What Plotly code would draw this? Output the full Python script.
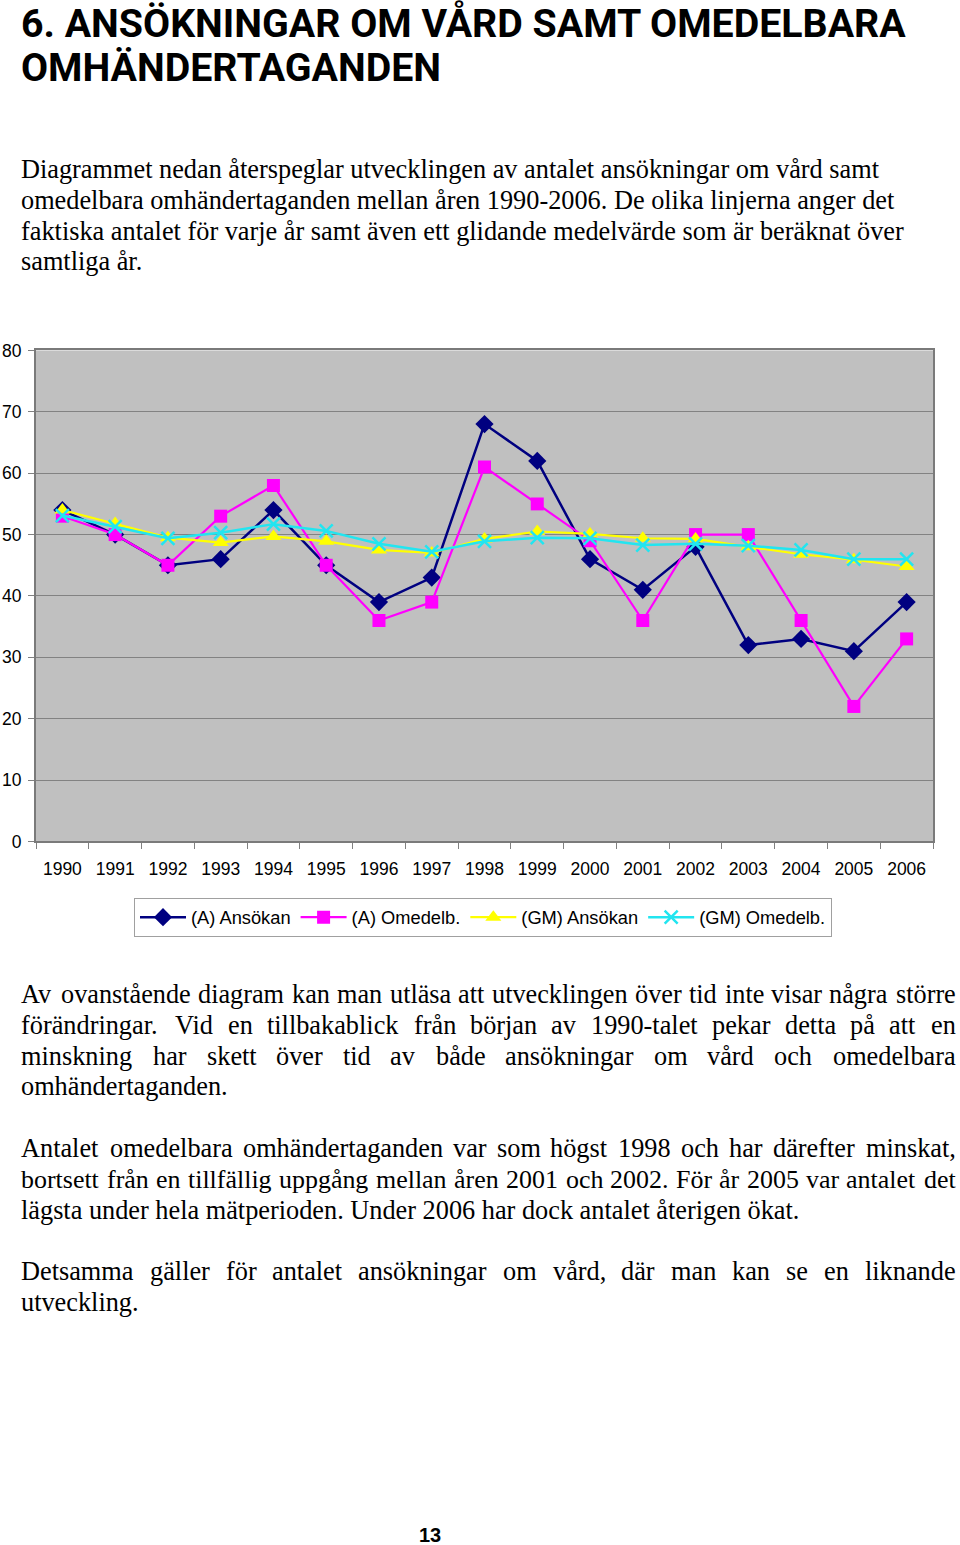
import plotly.graph_objects as go

W, H = 960, 1545

years = [str(y) for y in range(1990, 2007)]
a_ansokan = [54, 50, 45, 46, 54, 45, 39, 43, 68, 62, 46, 41, 48, 32, 33, 31, 39]
a_omedelb = [53, 50, 45, 53, 58, 45, 36, 39, 61, 55, 49, 36, 50, 50, 36, 22, 33]
gm_ansokan = [54, 51.8, 49.5, 48.7, 49.7, 48.9, 47.5, 47.0, 49.3, 50.5, 50.1, 49.4, 49.3, 48.0, 46.8, 45.9, 44.8]
gm_omedelb = [53.1, 51.3, 49.4, 50.3, 51.7, 50.6, 48.5, 47.2, 48.9, 49.5, 49.4, 48.3, 48.5, 48.2, 47.5, 46.0, 46.0]
series_names = ["(A) Ansökan", "(A) Omedelb.", "(GM) Ansökan", "(GM) Omedelb."]
y_ticks = [0, 10, 20, 30, 40, 50, 60, 70, 80]

title_lines = ["6. ANSÖKNINGAR OM VÅRD SAMT OMEDELBARA", "OMHÄNDERTAGANDEN"]
p1 = ["Diagrammet nedan återspeglar utvecklingen av antalet ansökningar om vård samt",
      "omedelbara omhändertaganden mellan åren 1990-2006. De olika linjerna anger det",
      "faktiska antalet för varje år samt även ett glidande medelvärde som är beräknat över",
      "samtliga år."]
p2 = ["Av ovanstående diagram kan man utläsa att utvecklingen över tid inte visar några större",
      "förändringar. Vid en tillbakablick från början av 1990-talet pekar detta på att en",
      "minskning har skett över tid av både ansökningar om vård och omedelbara",
      "omhändertaganden."]
p3 = ["Antalet omedelbara omhändertaganden var som högst 1998 och har därefter minskat,",
      "bortsett från en tillfällig uppgång mellan åren 2001 och 2002. För år 2005 var antalet det",
      "lägsta under hela mätperioden. Under 2006 har dock antalet återigen ökat."]
p4 = ["Detsamma gäller för antalet ansökningar om vård, där man kan se en liknande",
      "utveckling."]
page_no = "13"

# empirical vertical correction of the rendered page
def Yc(r):   # chart domain
    return (r - 7.2) / 0.991

def Ya(r, b=10.2):   # annotations (text middle)
    return (r - b) / 0.987

PL, PR = 36, 933
PT, PB = Yc(349), Yc(842)

fig = go.Figure()
styles = [
    dict(color="#000080", symbol="diamond", size=14, lw=2.5),
    dict(color="#FF00FF", symbol="square", size=13, lw=2.2),
    dict(color="#FFFF00", symbol="triangle-up", size=14, lw=2.2),
    dict(color="#22E5F0", symbol="x-thin", size=13, lw=2.5),
]
for name, vals, st in zip(series_names, [a_ansokan, a_omedelb, gm_ansokan, gm_omedelb], styles):
    mk = dict(symbol=st["symbol"], size=st["size"], color=st["color"])
    if st["symbol"] == "x-thin":
        mk["line"] = dict(color=st["color"], width=2.5)
    fig.add_trace(go.Scatter(x=years, y=vals, name=name, mode="lines+markers",
                             line=dict(color=st["color"], width=st["lw"]),
                             marker=mk))

fig.update_layout(
    width=W, height=H,
    margin=dict(l=0, r=0, t=0, b=0),
    paper_bgcolor="white",
    plot_bgcolor="#C0C0C0",
    showlegend=True,
    legend=dict(orientation="h", x=134 / W, y=1 - Yc(898.5) / H, xanchor="left", yanchor="top",
                bgcolor="white", bordercolor="#A0A0A0", borderwidth=1,
                font=dict(family="Liberation Sans, Arial", size=18.3, color="black"),
                itemwidth=46, tracegroupgap=0),
    xaxis=dict(domain=[PL / W, PR / W], type="category", range=[-0.5, 16.5],
               showgrid=False, zeroline=False, showline=True, mirror=True,
               linecolor="#7A7A7A", linewidth=2, ticks="outside", tickson="boundaries",
               ticklen=6, tickcolor="#808080", tickwidth=1,
               tickfont=dict(family="Liberation Sans, Arial", size=17.5, color="black"),
               ticklabelstandoff=11),
    yaxis=dict(domain=[1 - PB / H, 1 - PT / H], range=[0, 80], tickvals=y_ticks,
               showgrid=True, gridcolor="#828282", gridwidth=1, zeroline=False,
               showline=True, mirror=True, linecolor="#7A7A7A", linewidth=2,
               ticks="outside", ticklen=6, tickcolor="#808080", tickwidth=1,
               tickfont=dict(family="Liberation Sans, Arial", size=17.5, color="black"),
               ticklabelstandoff=3),
)

def px_text(x, y, text, size, family, anchor="left", bold=False, color="black"):
    fig.add_annotation(x=x / W, y=1 - y / H, xref="paper", yref="paper", text=text,
                       showarrow=False, xanchor=anchor, yanchor="middle",
                       font=dict(family=family, size=size, color=color,
                                 weight="bold" if bold else "normal"))

# Title
TF = "Roboto, Liberation Sans, sans-serif"
px_text(19, Ya(23, 9.2), title_lines[0], 39.3, TF, bold=True)
px_text(19, Ya(67, 9.2), title_lines[1], 39.3, TF, bold=True)

# Times-metric character widths for justification
CW = {' ': 250, ',': 250, '.': 250, '-': 333, 'A': 722, 'D': 722, 'F': 556, 'U': 722, 'V': 722,
      'a': 444, 'b': 500, 'c': 444, 'd': 500, 'e': 444, 'f': 333, 'g': 500, 'h': 500, 'i': 278,
      'j': 278, 'k': 500, 'l': 278, 'm': 778, 'n': 500, 'o': 500, 'p': 500, 'q': 500, 'r': 333,
      's': 389, 't': 278, 'u': 500, 'v': 500, 'w': 722, 'x': 500, 'y': 500, 'z': 444,
      'å': 444, 'ä': 444, 'ö': 500}

def tw(s, size):
    return sum(CW.get(ch, 500) for ch in s) * size / 1000.0

BF = "Liberation Serif, Times New Roman, serif"
BS = 26.3
LEFT, RIGHT = 19, 958      # annotation anchor positions (text 22..955)
TL, TR = 22, 955
LH = 30.7

def para(lines, r0, justified_flags):
    for i, (ln, j) in enumerate(zip(lines, justified_flags)):
        y = Ya(r0 + i * LH)
        if not j:
            px_text(LEFT, y, ln, BS, BF)
        else:
            words = ln.split(" ")
            unit = sum(tw(w, 1) for w in words)
            min_space = 0.28 * BS
            size = min(BS, (TR - TL - min_space * (len(words) - 1)) / unit)
            widths = [tw(w, size) for w in words]
            gap = (TR - TL - sum(widths)) / (len(words) - 1)
            x = TL
            for k, (w, wd) in enumerate(zip(words, widths)):
                if k == 0:
                    px_text(LEFT, y, w, size, BF)
                elif k == len(words) - 1:
                    px_text(RIGHT, y, w, size, BF, anchor="right")
                else:
                    px_text(x + wd / 2, y, w, size, BF, anchor="center")
                x += wd + gap

para(p1, 170, [False, False, False, False])
para(p2, 995, [True, True, True, False])
para(p3, 1149, [True, True, False])
para(p4, 1272, [True, False])

px_text(430, Ya(1533, 8.4), page_no, 20, "Liberation Sans, Arial", anchor="center", bold=True)

fig.write_html("out.html", config={"displayModeBar": False},
               post_script="document.body.style.margin='0';document.body.style.overflow='hidden';")
